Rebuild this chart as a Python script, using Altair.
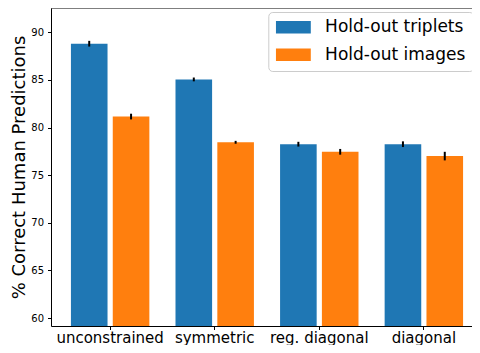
import altair as alt
import pandas as pd

categories = ["unconstrained", "symmetric", "reg. diagonal", "diagonal"]
series = ["Hold-out triplets", "Hold-out images"]
triplets = [88.8, 85.05, 78.25, 78.25]
triplets_err = [0.3, 0.2, 0.25, 0.3]
images = [81.15, 78.45, 77.45, 77.0]
images_err = [0.3, 0.15, 0.3, 0.45]
colors = ["#1f77b4", "#ff7f0e"]
y_ticks = [60, 65, 70, 75, 80, 85, 90]

rows = []
for s, vals, errs in [(series[0], triplets, triplets_err), (series[1], images, images_err)]:
    for c, v, e in zip(categories, vals, errs):
        rows.append({"category": c, "series": s, "value": v, "lo": v - e, "hi": v + e})
df = pd.DataFrame(rows)

FONT = "DejaVu Sans"
# visible plot area is cut at the window's right edge, like the reference
W, H = 421, 318
FULL_W = 432          # the full (uncut) band range
x_po = 0.0656
YDOM = [59.16, 92.55]

x_enc = alt.X(
    "category:N",
    sort=categories,
    scale=alt.Scale(paddingInner=0, paddingOuter=x_po, range=[0, FULL_W]),
    axis=alt.Axis(
        title=None, labelAngle=0, labelFont=FONT, labelFontSize=15, labelColor="black",
        tickColor="black", tickSize=3.5, domainColor="black", labelPadding=1,
    ),
)
xoff_enc = alt.XOffset(
    "series:N", sort=series, scale=alt.Scale(paddingInner=0.125, paddingOuter=0.3125)
)
y_scale = alt.Scale(domain=YDOM, nice=False, zero=False)

bars = alt.Chart(df).mark_bar(clip=True).encode(
    x=x_enc,
    xOffset=xoff_enc,
    y=alt.Y(
        "value:Q",
        scale=y_scale,
        axis=alt.Axis(
            values=y_ticks, title="% Correct Human Predictions", labelFont=FONT,
            labelFontSize=10, labelColor="black", tickColor="black", tickSize=3.5,
            domainColor="black", labelPadding=4, grid=False, titleFont=FONT,
            titleFontSize=18, titleFontWeight="normal", titleColor="black",
            titleX=-27, titleY=159, titleAngle=-90, titleAlign="center",
            titleBaseline="alphabetic",
        ),
    ),
    color=alt.Color(
        "series:N",
        sort=series,
        scale=alt.Scale(domain=series, range=colors),
        legend=alt.Legend(
            title=None, orient="none", legendX=217.3, legendY=4,
            labelFont=FONT, labelFontSize=17, labelColor="black",
            symbolType="M-1,-0.363H1V0.363H-1Z", symbolSize=1225,
            symbolStrokeWidth=0, symbolOpacity=1, labelOffset=14.3,
            padding=7.5, rowPadding=9.5, clipHeight=15.5,
            fillColor="rgba(255,255,255,0.8)", strokeColor="#cccccc", cornerRadius=4,
        ),
    ),
)

errs = alt.Chart(df).mark_rule(color="black", strokeWidth=2).encode(
    x=alt.X("category:N", sort=categories),
    xOffset=alt.XOffset("series:N", sort=series),
    y=alt.Y("lo:Q", scale=y_scale),
    y2="hi:Q",
)

top = alt.Chart(alt.Data(values=[{"k": 1}])).mark_rule(color="black", strokeWidth=1).encode(
    x=alt.value(0), x2=alt.value(W), y=alt.value(0)
)

chart = alt.layer(bars, errs, top).properties(
    width=W, height=H,
    autosize=alt.AutoSizeParams(type="none"),
    padding={"left": 43, "top": 0, "right": 0, "bottom": 19},
).configure_view(stroke=None)

chart.save("out.html", embed_options={"renderer": "svg", "actions": False})
